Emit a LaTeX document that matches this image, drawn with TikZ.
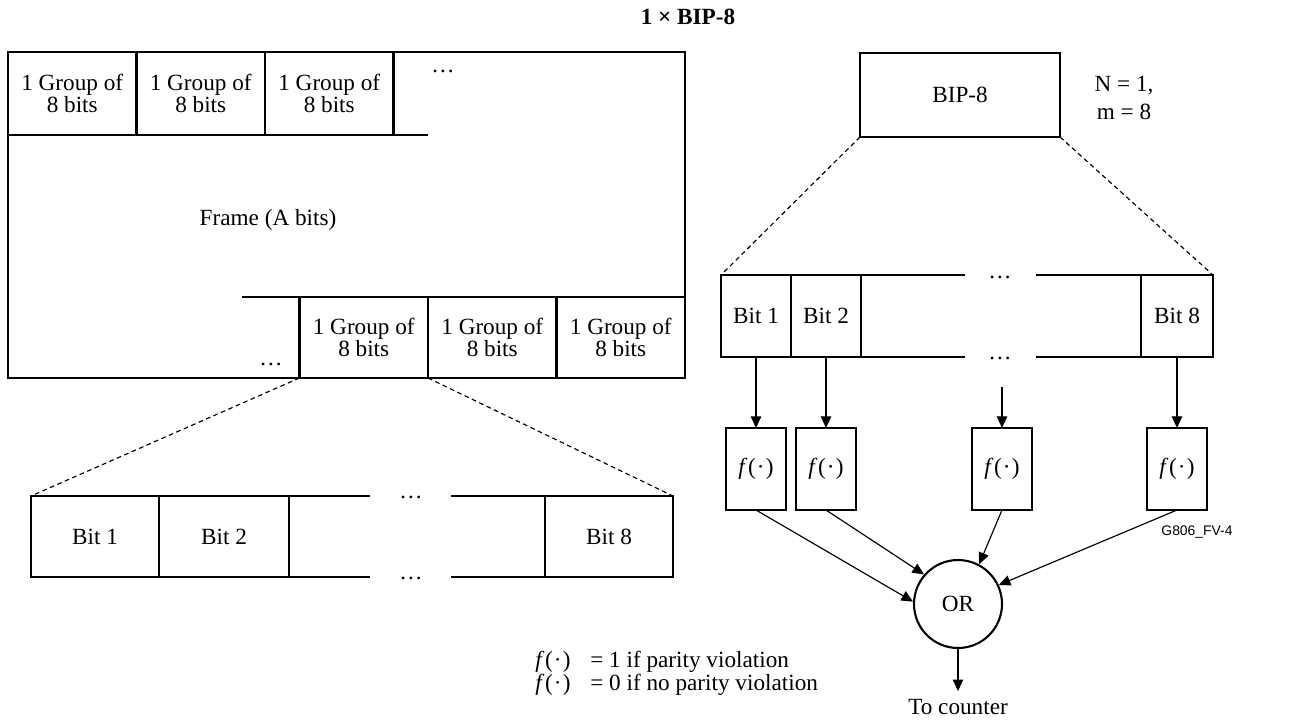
\documentclass[tikz,border=0pt]{standalone}
\usepackage{fontspec}
\setmainfont{Liberation Serif}
\newfontfamily\figsans{Liberation Sans}
\usetikzlibrary{arrows.meta}
\newcommand\fdot{\textit{f}\kern0.2pt(\kern0.5pt·\kern0.5pt)}

\begin{document}
\begin{tikzpicture}[
  x=0.431pt, y=-0.431pt,
  font=\fontsize{10}{9.5}\selectfont,
  cell/.style={draw, line width=0.9pt, inner sep=0pt, outer sep=0pt, align=center},
  wd/.style={minimum width=#1*0.431pt},
  ht/.style={minimum height=#1*0.431pt},
  rim/.style={line width=0.9pt},
  arr/.style={-{Triangle[length=5pt,width=4.5pt]}, line width=0.5pt},
  guide/.style={dash pattern=on 2pt off 1.5pt, line width=0.5pt},
  gap/.style={inner sep=0pt}
]
\useasboundingbox (0,0) rectangle (1291,720);

\node[font=\bfseries] (title) at (688,17) {1 × BIP-8};

% frame with groups of 8 bits
\node[cell, wd=677, ht=326, anchor=north west] (frame) at (8,52) {};
\foreach \i/\x in {1/8,2/136.5,3/265}
  \node[cell, wd=128.5, ht=83, anchor=north west] (tg\i) at (\x,52) {1 Group of\\8 bits};
\coordinate (topend) at (428,135);
\draw[rim] (tg3.south east) -- (topend);
\node[gap] (tdots) at (443,71) {\dots};
\node (framelbl) at (268,220) {Frame (A bits)};
\foreach \i/\x in {1/299.5,2/428,3/556.5}
  \node[cell, wd=128.5, ht=81, anchor=north west] (bg\i) at (\x,297) {1 Group of\\8 bits};
\coordinate (botstart) at (242,297);
\draw[rim] (botstart) -- (bg1.north west);
\node[gap] (bdots) at (271,364) {\dots};

% one group, bit by bit
\node[cell, wd=128, ht=81, anchor=north west] (lb1) at (31,496) {Bit 1};
\node[cell, wd=130, ht=81, anchor=north west] (lb2) at (159,496) {Bit 2};
\node[cell, wd=128, ht=81, anchor=north west] (lb8) at (545,496) {Bit 8};
\coordinate (lgap1) at (370,496);
\coordinate (lgap2) at (370,577);
\coordinate (lgap3) at (451,496);
\coordinate (lgap4) at (451,577);
\draw[rim] (lb2.north east) -- (lgap1);
\draw[rim] (lb2.south east) -- (lgap2);
\draw[rim] (lgap3) -- (lb8.north west);
\draw[rim] (lgap4) -- (lb8.south west);
\node[gap] (ldots1) at (411,497) {\dots};
\node[gap] (ldots2) at (411,578) {\dots};
\draw[guide] (bg1.south west) -- (lb1.north west);
\draw[guide] (bg1.south east) -- (lb8.north east);

% BIP-8 and its bits
\node[cell, wd=200, ht=84] (bip) at (960,95) {BIP-8};
\node[font=\fontsize{10}{11.7}\selectfont, align=center] (nm) at (1124,98) {N = 1,\\m = 8};
\node[cell, wd=70, ht=82, anchor=north west] (rb1) at (721,275) {Bit 1};
\node[cell, wd=70, ht=82, anchor=north west] (rb2) at (791,275) {Bit 2};
\node[cell, wd=72, ht=82, anchor=north west] (rb8) at (1141,275) {Bit 8};
\coordinate (rgap1) at (965,275);
\coordinate (rgap2) at (965,357);
\coordinate (rgap3) at (1036,275);
\coordinate (rgap4) at (1036,357);
\draw[rim] (rb2.north east) -- (rgap1);
\draw[rim] (rb2.south east) -- (rgap2);
\draw[rim] (rgap3) -- (rb8.north west);
\draw[rim] (rgap4) -- (rb8.south west);
\node[gap] (rdots1) at (1000,277) {\dots};
\node[gap] (rdots2) at (1000,358) {\dots};
\draw[guide] (bip.south west) -- (rb1.north west);
\draw[guide] (bip.south east) -- (rb8.north east);

% parity checks
\foreach \i/\x in {1/756,2/826,3/1002,4/1177}
  \node[cell, wd=60, ht=82] (f\i) at (\x,469) {\fdot};
\coordinate (mid) at (1002,387);
\draw[arr] (rb1) -- (f1);
\draw[arr] (rb2) -- (f2);
\draw[arr] (mid) -- (f3);
\draw[arr] (rb8) -- (f4);
\node[gap, font=\figsans\fontsize{6}{7}\selectfont] (figid) at (1197,532) {G806\_FV-4};

\node[draw, circle, line width=0.9pt, minimum size=88*0.431pt, inner sep=0pt] (orgate) at (958,604) {OR};
\draw[arr] (f1.south) -- (orgate.177);
\draw[arr] (f2.south) -- (orgate.139);
\draw[arr] (f3.south) -- (orgate.62);
\draw[arr] (f4.south) -- (orgate.25);
\node (cnt) at (958,707) {To counter};
\draw[arr] (orgate) -- (cnt);

\node[anchor=west, inner sep=0pt] (legend) at (535,674) {%
  \begin{tabular}{@{}l@{\hspace{8.5pt}}l@{}}
  \fdot & = 1 if parity violation\\
  \fdot & = 0 if no parity violation
  \end{tabular}};
\end{tikzpicture}
\end{document}
